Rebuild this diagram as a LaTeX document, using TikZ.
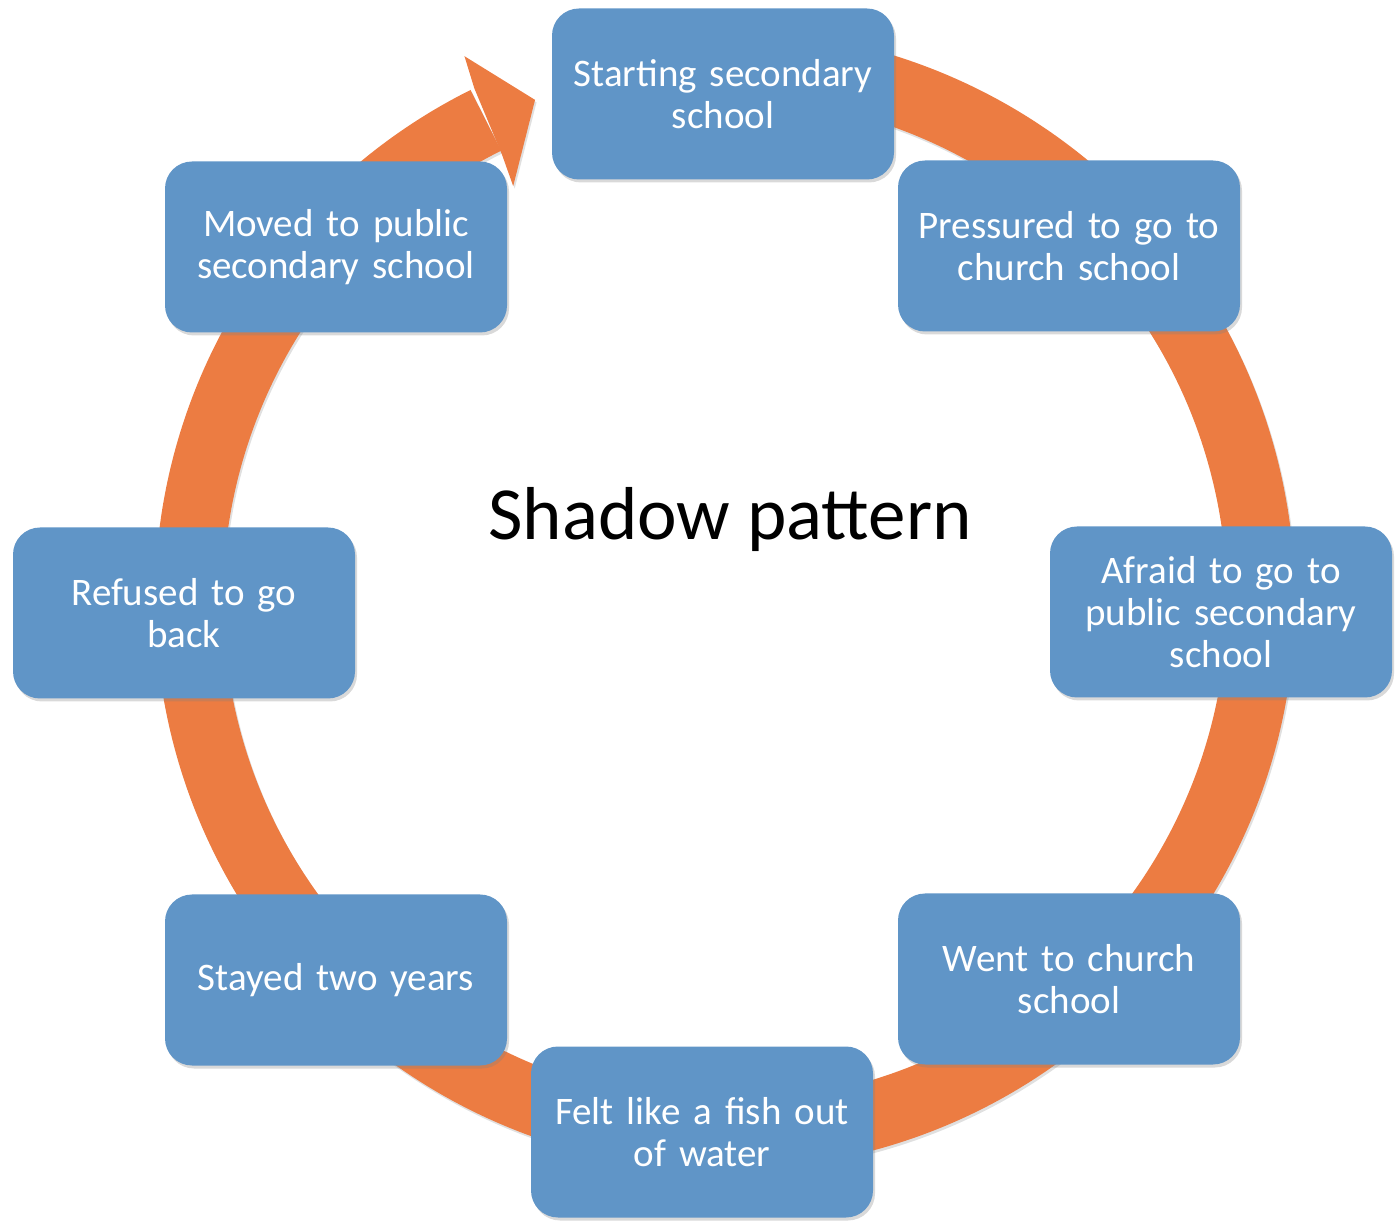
\documentclass[tikz,border=0pt]{standalone}
\usepackage{fontspec}
\setmainfont{Carlito}
\usetikzlibrary{shadows,calc}
\definecolor{boxblue}{RGB}{96,149,199}
\definecolor{ringorange}{RGB}{236,124,66}
\tikzset{
  phase/.style={rectangle, rounded corners=27pt, fill=boxblue,
    minimum width=342pt, minimum height=171pt, text width=330pt,
    align=center, text=white, font=\fontsize{39}{42}\selectfont,
    drop shadow={opacity=0.3, shadow xshift=2pt, shadow yshift=-3pt}},
  ring/.style={line width=68pt, ringorange}
}
\begin{document}
\begin{tikzpicture}[x=1pt,y=1pt]
      \useasboundingbox (0,0) rectangle (1397,1221);
      \coordinate (c) at (725,621);
      % orange cycle arrow, with a faint shadow
      \begin{scope}[shift={($(c)+(1.5,-2.5)$)}, black, opacity=0.12]
        \draw[line width=68pt] (100:536) arc[start angle=100, end angle=-243.5, radius=536];
        \fill (115.6:603) -- (110.8:535) -- (117.1:465) -- (116.6:498) -- (116.1:570) -- cycle;
      \end{scope}
      \begin{scope}[shift={(c)}]
        \draw[ring] (100:536) arc[start angle=100, end angle=-243.5, radius=536];
        \fill[ringorange] (115.6:603) -- (110.8:535) -- (117.1:465) -- (116.6:498) -- (116.1:570) -- cycle;
      \end{scope}
      % boxes
      \node[phase] (start) at (723,1127) {Starting secondary\\school};
      \node[phase] (pressured) at (1069,975) {Pressured to go to\\church school};
      \node[phase] (afraid) at (1221,609) {Afraid to go to\\public secondary\\school};
      \node[phase] (went) at (1069,242) {Went to church\\school};
      \node[phase] (felt) at (702,89) {Felt like a fish out\\of water};
      \node[phase] (stayed) at (336,241) {Stayed two years};
      \node[phase] (refused) at (184,608) {Refused to go\\back};
      \node[phase] (moved) at (336,974) {Moved to public\\secondary school};
      \node[anchor=base, font=\fontsize{75}{90}\selectfont] (title) at (730,681) {Shadow pattern};
    \end{tikzpicture}
\end{document}
